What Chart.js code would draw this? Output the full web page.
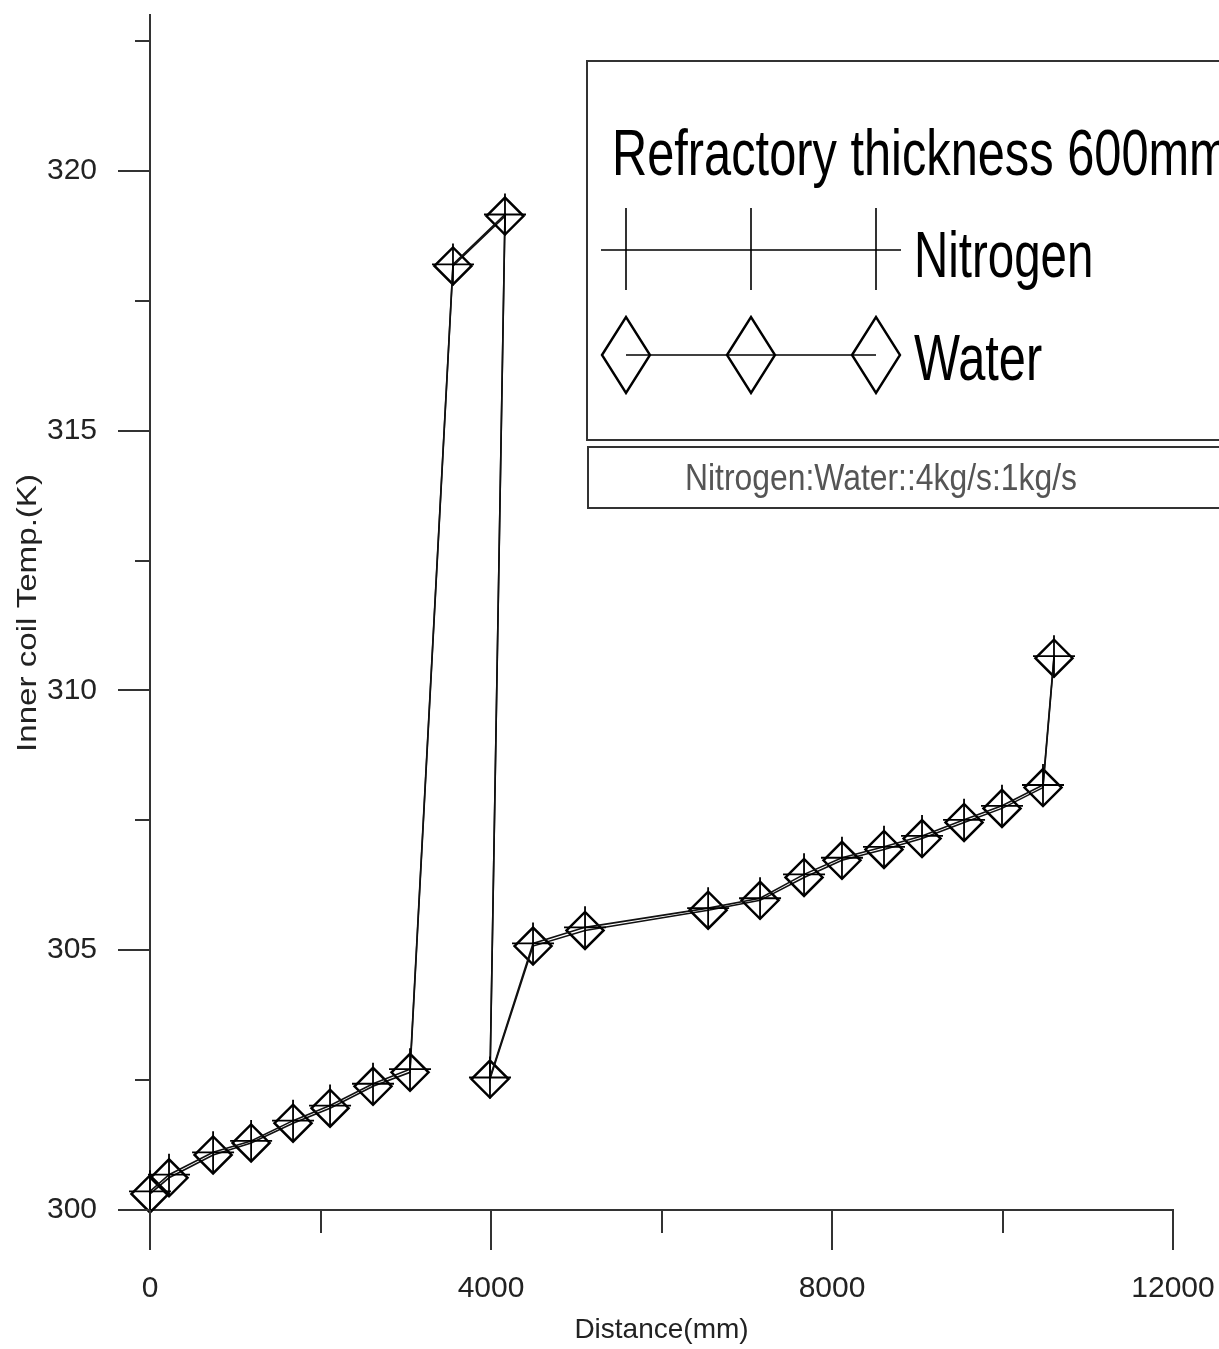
<!DOCTYPE html>
<html><head><meta charset="utf-8">
<script src="https://cdn.jsdelivr.net/npm/chart.js@4.4.1/dist/chart.umd.min.js"></script>
<style>html,body{margin:0;padding:0;background:#fff;}#wrap{position:relative;width:1219px;height:1349px;overflow:hidden;}</style>
</head><body><div id="wrap"><canvas id="c" width="1219" height="1349"></canvas></div>
<script>
// ---- data ----
const waterDistance = [0, 223, 740, 1186, 1678, 2112, 2616, 3050, 3554, 4164, 3988, 4493, 5103, 6547, 7156, 7672, 8117, 8610, 9056, 9549, 9994, 10475, 10604];
const waterTemp = [300.31, 300.62, 301.06, 301.29, 301.67, 301.96, 302.38, 302.65, 318.17, 319.13, 302.52, 305.08, 305.38, 305.77, 305.96, 306.4, 306.73, 306.94, 307.15, 307.46, 307.73, 308.13, 310.62];
const nitrogenDistance = [0, 223, 740, 1186, 1678, 2112, 2616, 3050, 3554, 4164, 3988, 4493, 5103, 6547, 7156, 7672, 8117, 8610, 9056, 9549, 9994, 10475, 10604];
const nitrogenTemp = [300.36, 300.68, 301.11, 301.33, 301.72, 302.01, 302.43, 302.71, 318.2, 319.16, 302.55, 305.13, 305.44, 305.81, 306.0, 306.46, 306.78, 306.99, 307.2, 307.51, 307.78, 308.18, 310.66];
const xMajorTicks = [0, 4000, 8000, 12000];
const xMinorTicks = [2000, 6000, 10000];
const yMajorTicks = [300, 305, 310, 315, 320];
const yMinorTicks = [302.5, 307.5, 312.5, 317.5, 322.5];
const seriesNames = ['Nitrogen', 'Water'];
const legendTitle = 'Refractory thickness 600mm';
const noteText = 'Nitrogen:Water::4kg/s:1kg/s';
const xTitle = 'Distance(mm)';
const yTitle = 'Inner coil Temp.(K)';

const FONT = '"Liberation Sans", Arial, sans-serif';

function toPoints(xs, ys) { return xs.map((x, i) => ({x: x, y: ys[i]})); }

function scaledText(ctx, text, x, y, font, sx, align) {
  ctx.save();
  ctx.font = font;
  ctx.translate(x, y);
  ctx.scale(sx, 1);
  ctx.textAlign = align || 'left';
  ctx.fillText(text, 0, 0);
  ctx.restore();
}

const zeroPad = () => ({left: 0, top: 0, right: 0, bottom: 0});

const decor = {
  id: 'decor',
  afterDraw(chart) {
    const ctx = chart.ctx, xs = chart.scales.x, ys = chart.scales.y, a = chart.chartArea;
    ctx.save();
    // tick marks
    ctx.strokeStyle = '#333'; ctx.lineWidth = 2;
    ctx.beginPath();
    yMajorTicks.forEach(v => { const p = Math.round(ys.getPixelForValue(v)); ctx.moveTo(a.left - 32, p); ctx.lineTo(a.left, p); });
    yMinorTicks.forEach(v => { const p = Math.round(ys.getPixelForValue(v)); ctx.moveTo(a.left - 15, p); ctx.lineTo(a.left, p); });
    xMajorTicks.forEach(v => { const p = Math.round(xs.getPixelForValue(v)); ctx.moveTo(p, a.bottom); ctx.lineTo(p, a.bottom + 40); });
    xMinorTicks.forEach(v => { const p = Math.round(xs.getPixelForValue(v)); ctx.moveTo(p, a.bottom); ctx.lineTo(p, a.bottom + 23); });
    ctx.stroke();

    // y axis title
    ctx.fillStyle = '#222';
    ctx.save();
    ctx.font = '28px ' + FONT;
    ctx.translate(28, 613);
    ctx.rotate(-Math.PI / 2);
    const w = ctx.measureText(yTitle).width;
    ctx.scale(278 / w, 1);
    ctx.textAlign = 'center'; ctx.textBaseline = 'middle';
    ctx.fillText(yTitle, 0, 0);
    ctx.restore();

    // legend boxes
    ctx.strokeStyle = '#333'; ctx.lineWidth = 2;
    ctx.strokeRect(587, 61, 660, 379);
    ctx.strokeRect(588, 447, 660, 61);

    ctx.fillStyle = '#000';
    ctx.textBaseline = 'alphabetic';
    scaledText(ctx, legendTitle, 612, 175, '65px ' + FONT, 0.75);
    scaledText(ctx, seriesNames[0], 914, 277, '65px ' + FONT, 0.73);
    scaledText(ctx, seriesNames[1], 914, 380, '65px ' + FONT, 0.75);

    // legend sample: nitrogen
    ctx.strokeStyle = '#000'; ctx.lineWidth = 1.6;
    ctx.beginPath();
    ctx.moveTo(601, 250); ctx.lineTo(901, 250);
    [626, 751, 876].forEach(x => { ctx.moveTo(x, 208); ctx.lineTo(x, 290); });
    ctx.stroke();
    // legend sample: water
    ctx.beginPath();
    ctx.moveTo(626, 355); ctx.lineTo(876, 355);
    ctx.stroke();
    ctx.lineWidth = 2.4;
    [626, 751, 876].forEach(x => {
      ctx.beginPath();
      ctx.moveTo(x - 24, 355); ctx.lineTo(x, 317); ctx.lineTo(x + 24, 355); ctx.lineTo(x, 393); ctx.closePath();
      ctx.stroke();
    });

    // note
    ctx.fillStyle = '#555';
    ctx.save();
    ctx.font = '37px ' + FONT;
    const nw = ctx.measureText(noteText).width;
    ctx.translate(685, 490);
    ctx.scale(392 / nw, 1);
    ctx.fillText(noteText, 0, 0);
    ctx.restore();

    ctx.restore();
  }
};

new Chart(document.getElementById('c'), {
  type: 'scatter',
  data: {
    datasets: [
      {
        label: seriesNames[0],
        data: toPoints(nitrogenDistance, nitrogenTemp),
        showLine: true,
        borderColor: '#111',
        borderWidth: 1.6,
        pointStyle: 'cross',
        pointRadius: 21,
        pointHoverRadius: 21,
        pointBorderWidth: 1.8,
        pointBorderColor: '#000',
        pointBackgroundColor: 'rgba(0,0,0,0)',
        clip: false
      },
      {
        label: seriesNames[1],
        data: toPoints(waterDistance, waterTemp),
        showLine: true,
        borderColor: '#111',
        borderWidth: 1.6,
        pointStyle: 'rectRot',
        pointRadius: 18.5,
        pointHoverRadius: 18.5,
        pointBorderWidth: 2.5,
        pointBorderColor: '#000',
        pointBackgroundColor: 'rgba(0,0,0,0)',
        clip: false
      }
    ]
  },
  options: {
    responsive: false,
    animation: false,
    devicePixelRatio: 1,
    layout: { autoPadding: false, padding: { top: 15, right: 46, bottom: 0, left: 0 } },
    plugins: { legend: { display: false }, tooltip: { enabled: false } },
    scales: {
      x: {
        type: 'linear', min: 0, max: 12000,
        afterBuildTicks: s => { s.ticks = xMajorTicks.map(v => ({value: v})); },
        afterFit: s => { s.height = 139; s.paddingLeft = 0; s.paddingRight = 0; s.paddingTop = 0; s.paddingBottom = 0; s.getPadding = zeroPad; },
        grid: { display: false, drawTicks: false },
        border: { display: true, color: '#333', width: 2 },
        ticks: { font: { family: FONT, size: 30 }, color: '#222', padding: 61, maxRotation: 0, callback: v => String(v) },
        title: { display: true, text: xTitle, font: { family: FONT, size: 28 }, color: '#222', padding: { top: 0, bottom: 2 } }
      },
      y: {
        type: 'linear', min: 300, max: 323,
        afterBuildTicks: s => { s.ticks = yMajorTicks.map(v => ({value: v})); },
        afterFit: s => { s.width = 150; s.paddingTop = 0; s.paddingBottom = 0; s.paddingLeft = 0; s.paddingRight = 0; s.getPadding = zeroPad; },
        grid: { display: false, drawTicks: false },
        border: { display: true, color: '#333', width: 2 },
        ticks: { font: { family: FONT, size: 30 }, color: '#222', padding: 53, callback: v => String(v) }
      }
    }
  },
  plugins: [decor]
});
</script>
</body></html>
